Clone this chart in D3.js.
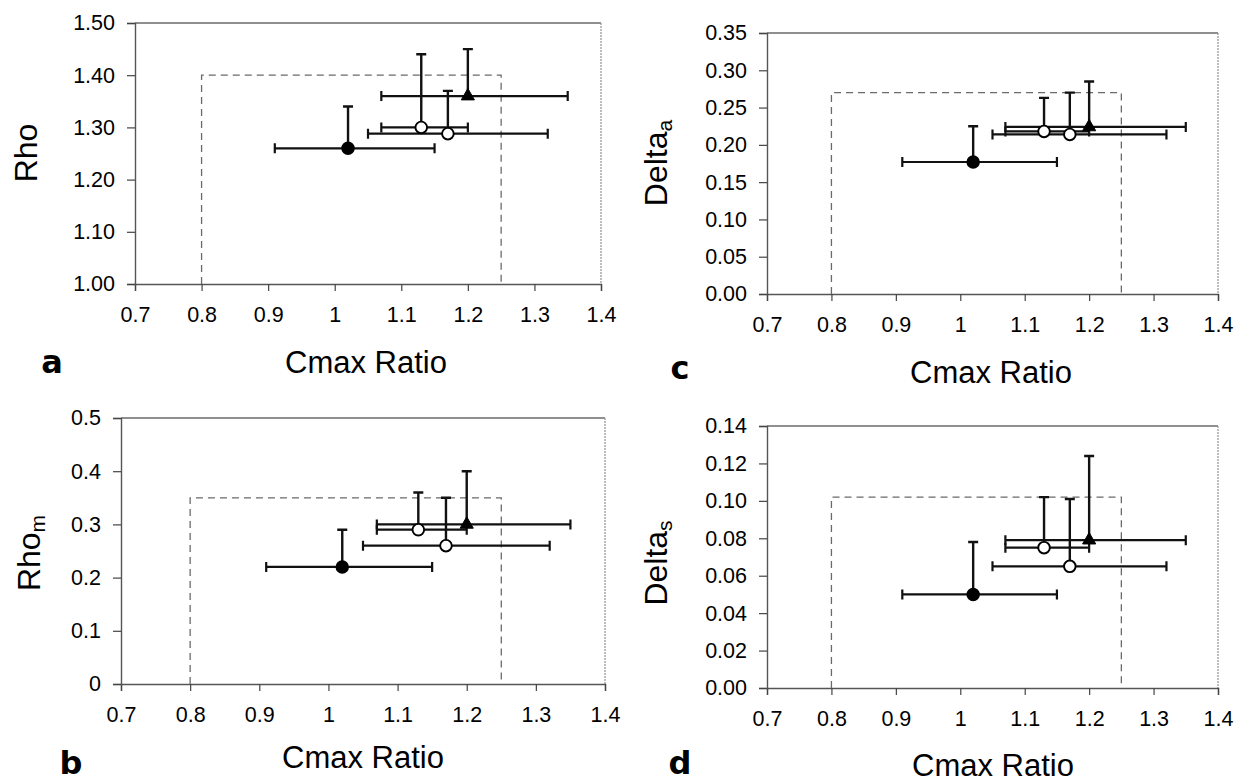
<!DOCTYPE html>
<html>
<head>
<meta charset="utf-8">
<script src="https://cdn.jsdelivr.net/npm/d3@7"></script>
<style>
  html, body { margin: 0; padding: 0; background: #fff; }
  svg { display: block; }
  text { font-family: Arial, "Liberation Sans", sans-serif; fill: #000; }
</style>
</head>
<body>
<svg id="chart" width="1250" height="783"></svg>
<script>
// Cmax ratio (point estimate and 90% interval) for the four formulations
const cmaxRatio = [1.02, 1.13, 1.17, 1.20];
const cmaxLow   = [0.91, 1.07, 1.05, 1.07];
const cmaxHigh  = [1.15, 1.20, 1.32, 1.35];

// Metrics with their upper bounds
const rho        = [1.26, 1.30, 1.288, 1.36];
const rhoUpper   = [1.34, 1.44, 1.37, 1.45];
const rhoM       = [0.22, 0.29, 0.26, 0.30];
const rhoMUpper  = [0.29, 0.36, 0.35, 0.40];
const deltaA      = [0.177, 0.218, 0.214, 0.224];
const deltaAUpper = [0.225, 0.263, 0.270, 0.285];
const deltaS      = [0.050, 0.075, 0.065, 0.079];
const deltaSUpper = [0.078, 0.102, 0.101, 0.124];

// Acceptance limits
const cmaxLimits = [0.8, 1.25];
const rhoLimit = 1.40;
const rhoMLimit = 0.35;
const deltaALimit = 0.27;
const deltaSLimit = 0.102;

// Tick values
const xTicks = [0.7, 0.8, 0.9, 1.0, 1.1, 1.2, 1.3, 1.4];
const rhoTicks = [1.00, 1.10, 1.20, 1.30, 1.40, 1.50];
const rhoMTicks = [0, 0.1, 0.2, 0.3, 0.4, 0.5];
const deltaATicks = [0.00, 0.05, 0.10, 0.15, 0.20, 0.25, 0.30, 0.35];
const deltaSTicks = [0.00, 0.02, 0.04, 0.06, 0.08, 0.10, 0.12, 0.14];

const svg = d3.select("#chart");

// marker style per formulation: filled circle, open circle, open circle, filled triangle
const markerKind = ["dot", "ring", "ring", "tri"];

const panels = [
  { letter: "a", title: "Rho", sub: "", y: rho, yUp: rhoUpper, limit: rhoLimit,
    ticks: rhoTicks, domain: [1.0, 1.5], fmt: d3.format(".2f"),
    xr: [135, 601], yr: [284, 23],
    yTitle: [26, 153], xTitle: [366, 373], letterPos: [52, 373] },
  { letter: "b", title: "Rho", sub: "m", y: rhoM, yUp: rhoMUpper, limit: rhoMLimit,
    ticks: rhoMTicks, domain: [0, 0.5], fmt: d => d === 0 ? "0" : d3.format(".1f")(d),
    xr: [121, 605], yr: [684, 418],
    yTitle: [29, 553], xTitle: [363, 768], letterPos: [71, 774] },
  { letter: "c", title: "Delta", sub: "a", y: deltaA, yUp: deltaAUpper, limit: deltaALimit,
    ticks: deltaATicks, domain: [0, 0.35], fmt: d3.format(".2f"),
    xr: [767, 1218], yr: [294, 33],
    yTitle: [656, 163], xTitle: [991, 383], letterPos: [680, 379] },
  { letter: "d", title: "Delta", sub: "s", y: deltaS, yUp: deltaSUpper, limit: deltaSLimit,
    ticks: deltaSTicks, domain: [0, 0.14], fmt: d3.format(".2f"),
    xr: [767, 1218], yr: [688, 426],
    yTitle: [656, 563], xTitle: [993, 776], letterPos: [680, 774] }
];

panels.forEach(p => {
  const x = d3.scaleLinear().domain([0.7, 1.4]).range(p.xr);
  const y = d3.scaleLinear().domain(p.domain).range(p.yr);
  const g = svg.append("g");
  const [x0, x1] = p.xr;
  const [yb, yt] = p.yr;

  // plot frame: top/right light, axes darker
  g.append("line").attr("x1", x0).attr("x2", x1).attr("y1", yt).attr("y2", yt)
    .attr("stroke", "#6a6a6a").attr("stroke-width", 1.4);
  g.append("line").attr("x1", x1).attr("x2", x1).attr("y1", yt).attr("y2", yb)
    .attr("stroke", "#9a9a9a").attr("stroke-width", 1.3).attr("stroke-dasharray", "2,1");

  // axes
  const xAxis = d3.axisBottom(x).tickValues(xTicks).tickSize(7).tickPadding(16)
    .tickFormat(d => d3.format("")(+d.toFixed(1)));
  const gx = g.append("g").attr("transform", `translate(0,${yb})`).call(xAxis);
  const yAxis = d3.axisLeft(y).tickValues(p.ticks).tickSize(8).tickPadding(12)
    .tickFormat(p.fmt);
  const gy = g.append("g").attr("transform", `translate(${x0},0)`).call(yAxis);
  [gx, gy].forEach(a => {
    a.select(".domain").attr("stroke", "#555").attr("stroke-width", 1.4);
    a.selectAll(".tick line").attr("stroke", "#444").attr("stroke-width", 1.2);
    a.selectAll(".tick text").attr("font-size", 21.5).attr("fill", "#000")
      .style("font-family", "Arial, 'Liberation Sans', sans-serif");
  });

  // acceptance region (dashed)
  g.append("path")
    .attr("d", `M${x(cmaxLimits[0])},${y(p.domain[0])}V${y(p.limit)}H${x(cmaxLimits[1])}V${y(p.domain[0])}`)
    .attr("fill", "none").attr("stroke", "#6a6a6a").attr("stroke-width", 1.3)
    .attr("stroke-dasharray", "7,5");

  const idx = d3.range(cmaxRatio.length);

  // horizontal error bars (Cmax interval)
  const hb = g.append("g").attr("stroke", "#111").attr("stroke-width", 2.2).attr("fill", "none");
  idx.forEach(i => {
    const yy = y(p.y[i]);
    hb.append("path")
      .attr("d", `M${x(cmaxLow[i])},${yy}H${x(cmaxHigh[i])}` +
                 `M${x(cmaxLow[i])},${yy - 5}V${yy + 5}` +
                 `M${x(cmaxHigh[i])},${yy - 5}V${yy + 5}`);
  });

  // vertical error bars (upper bound only)
  const vb = g.append("g").attr("stroke", "#111").attr("stroke-width", 2.4).attr("fill", "none");
  idx.forEach(i => {
    const xx = x(cmaxRatio[i]);
    vb.append("path")
      .attr("d", `M${xx},${y(p.y[i])}V${y(p.yUp[i])}M${xx - 5},${y(p.yUp[i])}H${xx + 5}`);
  });

  // markers
  idx.forEach(i => {
    const cx = x(cmaxRatio[i]), cy = y(p.y[i]);
    const k = markerKind[i];
    if (k === "tri") {
      g.append("path").attr("transform", `translate(${cx},${cy})`)
        .attr("d", d3.symbol(d3.symbolTriangle, 75)())
        .attr("fill", "#000").attr("stroke", "#000").attr("stroke-width", 1);
    } else {
      g.append("circle").attr("cx", cx).attr("cy", cy).attr("r", 5.8)
        .attr("fill", k === "dot" ? "#000" : "#fff")
        .attr("stroke", "#000").attr("stroke-width", 1.9);
    }
  });

  // axis titles
  const yt2 = g.append("text")
    .attr("transform", `translate(${p.yTitle[0]},${p.yTitle[1]}) rotate(-90)`)
    .attr("text-anchor", "middle").attr("dominant-baseline", "central")
    .attr("font-size", 32);
  yt2.append("tspan").text(p.title);
  if (p.sub) {
    yt2.append("tspan").attr("font-size", 21).attr("dy", 8).text(p.sub);
  }

  g.append("text").attr("x", p.xTitle[0]).attr("y", p.xTitle[1])
    .attr("text-anchor", "middle").attr("font-size", 31).text("Cmax Ratio");

  g.append("text").attr("x", p.letterPos[0]).attr("y", p.letterPos[1])
    .attr("text-anchor", "middle").attr("font-size", 32).attr("font-weight", "bold")
    .style("font-family", "'DejaVu Sans', sans-serif")
    .text(p.letter);
});
</script>
</body>
</html>
